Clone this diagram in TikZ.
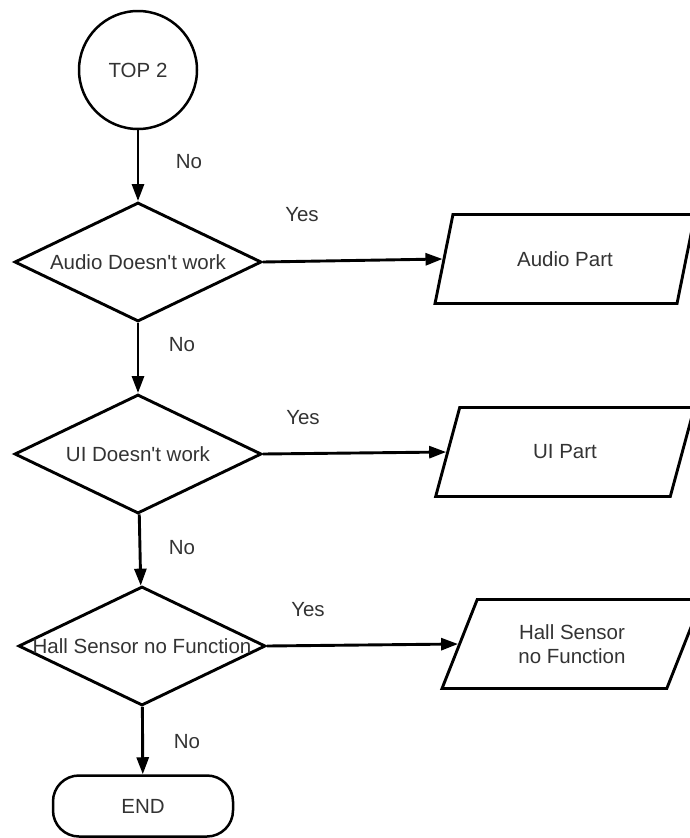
\documentclass[tikz,border=0pt]{standalone}
\usepackage{fontspec}
\setmainfont{Liberation Sans}
\usetikzlibrary{shapes.geometric, arrows.meta}

\begin{document}
\begin{tikzpicture}[x=1pt, y=-1pt]
    \tikzstyle{every node} = [font=\fontsize{20.5}{24}\selectfont, text=black!80]
    \tikzstyle{start}    = [draw=black, text=black!80, line width=2.5pt, circle, inner sep=0pt, minimum size=118pt]
    \tikzstyle{decision} = [draw=black, line width=2.9pt, diamond, inner sep=0pt, minimum width=247pt, minimum height=119pt]
    \tikzstyle{io}       = [draw=black, line width=2.9pt, trapezium, trapezium left angle=63, trapezium right angle=117,
                            trapezium stretches=true, inner sep=0pt, minimum width=260pt, minimum height=89pt]
    \tikzstyle{finish}   = [draw=black, line width=2.5pt, rectangle, rounded corners=26pt, minimum width=180pt, minimum height=61pt]
    \tikzstyle{arr}      = [line width=2.9pt, -{Triangle[length=17pt, width=12pt]}]

    \useasboundingbox (0,0) rectangle (690,838);

    % main column
    \node[start] (top) at (138,70) {TOP 2};
    \node[decision, label=center:{Audio Doesn\textquotesingle t work}] (audio) at (138,262) {};
    \node[decision, label=center:{UI Doesn\textquotesingle t work}] (ui) at (138,454) {};
    \node[decision, label=center:{Hall Sensor no Function}] (hall) at (142,646) {};
    \node[finish] (end) at (143,806) {END};

    % right column
    \node[io] (audiopart) at (565,259) {Audio Part};
    \node[io] (uipart) at (565,452) {UI Part};
    \node[io, align=center] (hallpart) at (572,644) {Hall Sensor\\no Function};

    % answers
    \node (no1) at (189,162) {No};
    \node (no2) at (182,345) {No};
    \node (no3) at (182,548) {No};
    \node (no4) at (187,742) {No};
    \node (yes1) at (302,215) {Yes};
    \node (yes2) at (303,418) {Yes};
    \node (yes3) at (308,610) {Yes};

    \draw[arr] (top) -- (audio);
    \draw[arr] (audio) -- (ui);
    \draw[arr] (ui) -- (hall);
    \draw[arr] (hall) -- (end);

    \draw[arr] (audio.east) -- (audiopart.left side);
    \draw[arr] (ui.east) -- (uipart.left side);
    \draw[arr] (hall.east) -- (hallpart.left side);
\end{tikzpicture}
\end{document}
